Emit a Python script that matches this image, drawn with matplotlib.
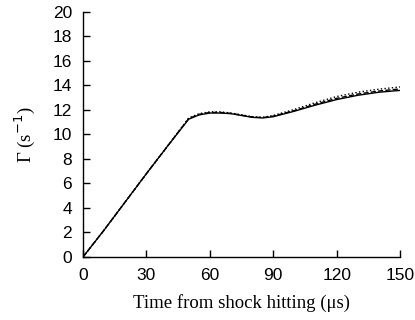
import matplotlib.pyplot as plt

# Time from shock hitting (us)
time_us = [0, 10, 20, 30, 40, 50, 55, 60, 65, 70, 75, 80, 85, 90, 100, 110, 120, 130, 140, 150]

# Gamma (1/s) for the three runs
gamma_solid = [0, 2.2, 4.5, 6.8, 9.05, 11.25, 11.6, 11.75, 11.75, 11.7, 11.55, 11.4, 11.35, 11.45,
               11.9, 12.4, 12.85, 13.2, 13.45, 13.6]
gamma_dashed = [0, 2.2, 4.5, 6.8, 9.05, 11.3, 11.65, 11.8, 11.8, 11.72, 11.58, 11.43, 11.38, 11.5,
                11.95, 12.48, 12.95, 13.3, 13.55, 13.72]
gamma_dotted = [0, 2.2, 4.5, 6.8, 9.05, 11.35, 11.7, 11.85, 11.85, 11.75, 11.6, 11.45, 11.4, 11.55,
                12.05, 12.6, 13.1, 13.45, 13.7, 13.88]

fig = plt.figure(figsize=(4.15, 3.2), dpi=100)
ax = fig.add_axes([0.2, 0.197, 0.764, 0.7655])

ax.plot(time_us, gamma_dotted, color="black", linestyle=":", linewidth=1.0)
ax.plot(time_us, gamma_dashed, color="black", linestyle="--", linewidth=1.0)
ax.plot(time_us, gamma_solid, color="black", linestyle="-", linewidth=1.0)

ax.set_xlim(0, 150)
ax.set_ylim(0, 20)
ax.set_xticks([0, 30, 60, 90, 120, 150])
ax.set_yticks(range(0, 21, 2))

for side in ["top", "right"]:
    ax.spines[side].set_visible(False)
for side in ["left", "bottom"]:
    ax.spines[side].set_linewidth(1.0)

ax.tick_params(direction="in", length=5, width=1.0, labelsize=12.5)
ax.tick_params(axis="x", pad=8)
ax.tick_params(axis="y", pad=8)
for lbl in ax.get_xticklabels() + ax.get_yticklabels():
    lbl.set_fontfamily("Liberation Sans")

ax.set_xlabel("Time from shock hitting (\u03bcs)", fontfamily="Liberation Serif", fontsize=13.5, labelpad=8)
ax.set_ylabel("\u0393 (s$^{-1}$)", fontfamily="Liberation Serif", fontsize=13.5, labelpad=11)

fig.savefig("out.png", dpi=100)
